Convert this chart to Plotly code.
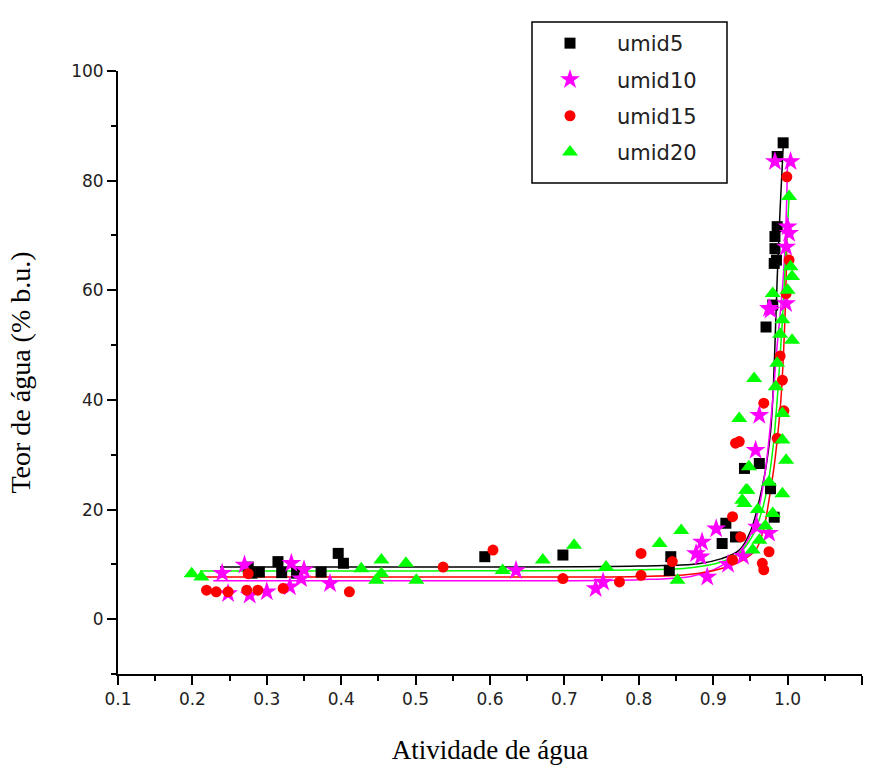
import plotly.graph_objects as go

# ---------------- data ----------------
u5_x = [0.275, 0.28, 0.29, 0.315, 0.32, 0.34, 0.373, 0.396, 0.403, 0.593, 0.698, 0.843, 0.841,
        0.912, 0.917, 0.93, 0.942, 0.962, 0.971, 0.977, 0.982, 0.98, 0.982, 0.983, 0.983, 0.985,
        0.986, 0.986, 0.994]
u5_y = [9.5, 8.4, 8.6, 10.5, 8.5, 8.4, 8.6, 12.0, 10.2, 11.4, 11.7, 11.4, 8.9,
        13.8, 17.5, 15.0, 27.5, 28.4, 53.3, 23.8, 18.6, 57.3, 64.9, 67.6, 69.8, 65.5,
        71.6, 84.4, 86.9]

u10_x = [0.24, 0.248, 0.27, 0.277, 0.3, 0.331, 0.333, 0.346, 0.35, 0.385, 0.635, 0.742, 0.752,
         0.877, 0.883, 0.885, 0.892, 0.904, 0.92, 0.94, 0.957, 0.959, 0.962, 0.975, 0.975, 0.977,
         0.983, 0.998, 0.998, 1.0, 1.002, 1.004]
u10_y = [8.4, 4.7, 9.9, 4.4, 5.0, 5.9, 10.2, 7.4, 9.0, 6.5, 8.9, 5.6, 6.8,
         12.0, 11.4, 14.1, 7.7, 16.5, 10.0, 11.5, 30.8, 16.8, 37.2, 15.7, 56.7, 56.4,
         83.5, 57.6, 67.9, 71.6, 70.4, 83.5]

u15_x = [0.219, 0.232, 0.248, 0.273, 0.288, 0.275, 0.322, 0.411, 0.537, 0.604, 0.698, 0.774, 0.803,
         0.803, 0.845, 0.926, 0.926, 0.93, 0.935, 0.937, 0.966, 0.968, 0.968, 0.975, 0.986, 0.99,
         0.995, 0.993, 0.998, 0.999, 1.002]
u15_y = [5.3, 5.0, 5.0, 5.3, 5.3, 8.3, 5.6, 5.0, 9.5, 12.6, 7.4, 6.8, 12.0,
         8.0, 10.5, 10.8, 18.7, 32.1, 32.4, 15.0, 10.2, 9.0, 39.4, 12.3, 33.0, 48.0,
         38.0, 43.6, 59.4, 80.7, 65.5]

u20_x = [0.199, 0.212, 0.427, 0.447, 0.454, 0.454, 0.487, 0.501, 0.617, 0.671, 0.713, 0.756, 0.828,
         0.852, 0.857, 0.935, 0.939, 0.942, 0.944, 0.946, 0.948, 0.953, 0.955, 0.96, 0.962, 0.97,
         0.975, 0.98, 0.98, 0.984, 0.986, 0.99, 0.993, 0.993, 0.993, 0.993, 0.998, 1.0, 1.002,
         1.004, 1.006, 1.006]
u20_y = [8.3, 7.7, 9.2, 7.1, 10.8, 8.3, 10.2, 7.1, 8.9, 10.8, 13.5, 9.5, 13.8,
         7.1, 16.2, 36.6, 21.7, 21.1, 23.5, 23.5, 27.8, 12.6, 43.9, 20.0, 14.4, 17.0,
         25.0, 19.3, 59.4, 42.4, 46.7, 52.0, 22.9, 32.7, 37.5, 54.6, 29.0, 60.0, 77.1,
         64.3, 50.9, 62.5]

# fitted curves
f5_x = [0.237, 0.5, 0.8, 0.88, 0.91, 0.935, 0.95, 0.962, 0.971, 0.977, 0.98, 0.983, 0.986, 0.99, 0.994]
f5_y = [9.5, 9.5, 9.7, 10.1, 11.0, 12.6, 16.0, 21.7, 27.8, 34.0, 40.0, 50.0, 62.0, 75.0, 86.0]

f10_x = [0.228, 0.5, 0.8, 0.87, 0.9, 0.925, 0.945, 0.96, 0.97, 0.98, 0.986, 0.991, 0.995, 0.998, 1.0]
f10_y = [7.0, 7.0, 7.2, 7.8, 9.0, 11.0, 14.0, 19.5, 27.0, 40.0, 50.0, 57.0, 64.0, 73.0, 84.0]

f15_x = [0.217, 0.5, 0.8, 0.87, 0.91, 0.94, 0.957, 0.967, 0.975, 0.982, 0.987, 0.991, 0.995, 0.998, 0.999]
f15_y = [7.7, 7.7, 7.8, 8.2, 9.2, 10.8, 12.6, 16.0, 21.7, 28.0, 34.0, 40.0, 50.0, 62.0, 70.0]

f20_x = [0.21, 0.5, 0.8, 0.87, 0.91, 0.935, 0.952, 0.965, 0.974, 0.981, 0.986, 0.99, 0.994, 0.997, 1.0, 1.002]
f20_y = [8.8, 8.8, 9.0, 9.4, 10.4, 12.0, 15.0, 19.5, 25.0, 32.0, 40.0, 48.0, 57.0, 65.0, 72.0, 77.0]

names = ["umid5", "umid10", "umid15", "umid20"]
x_ticks = [0.1, 0.2, 0.3, 0.4, 0.5, 0.6, 0.7, 0.8, 0.9, 1.0, 1.1]
y_ticks = [0, 20, 40, 60, 80, 100]

# ---------------- figure ----------------
colors = ["#000000", "#FF00FF", "#FF0000", "#00FF00"]
symbols = ["square", "star", "circle", "triangle-up"]
sizes = [11, 15, 11, 14]
pts = [(u5_x, u5_y), (u10_x, u10_y), (u15_x, u15_y), (u20_x, u20_y)]
fits = [(f5_x, f5_y), (f10_x, f10_y), (f15_x, f15_y), (f20_x, f20_y)]

fig = go.Figure()
for (fx, fy), c in zip(fits, colors):
    fig.add_trace(go.Scatter(x=fx, y=fy, mode="lines", line=dict(color=c, width=1.5),
                             showlegend=False, hoverinfo="skip", line_shape="spline"))
for (px, py), c, s, sz, n in zip(pts, colors, symbols, sizes, names):
    fig.add_trace(go.Scatter(x=px, y=py, mode="markers", name=n, legendgroup=n,
                             marker=dict(color=c, symbol=s, size=sz, line=dict(width=0))))

axis_common = dict(showgrid=False, zeroline=False, showline=True, linecolor="black",
                   linewidth=2, ticks="outside", tickcolor="black", tickwidth=1.5,
                   ticklen=9, tickfont=dict(family="DejaVu Sans", size=17, color="#222"))

# legend frame (paper coordinates)
fig.add_shape(type="rect", xref="paper", yref="paper",
              x0=(532 - 118) / 744, x1=(727 - 118) / 744,
              y0=(674 - 183) / 603, y1=(674 - 22) / 603,
              line=dict(color="black", width=1.5), fillcolor="white", layer="above")

fig.update_layout(
    width=875, height=765,
    margin=dict(l=118, r=13, t=71, b=91, autoexpand=False),
    paper_bgcolor="white", plot_bgcolor="white",
    xaxis=dict(range=[0.1, 1.1], tickvals=x_ticks, ticktext=[f"{v:.1f}" for v in x_ticks],
               minor=dict(ticks="outside", ticklen=5, tickwidth=1.5, tickcolor="black", dtick=0.05, tick0=0.1),
               title=dict(text="Atividade de água", standoff=36,
                          font=dict(family="Liberation Serif, Times New Roman", size=27, color="black")),
               **axis_common),
    yaxis=dict(range=[-10, 100], tickvals=y_ticks,
               minor=dict(ticks="outside", ticklen=5, tickwidth=1.5, tickcolor="black", dtick=10, tick0=0),
               title=dict(text="Teor de água (% b.u.)", standoff=32,
                          font=dict(family="Liberation Serif, Times New Roman", size=28, color="black")),
               **axis_common),
    legend=dict(x=(523 - 118) / 744, y=(674 - 23) / 603, xanchor="left", yanchor="top",
                borderwidth=0, bgcolor="rgba(0,0,0,0)",
                font=dict(family="DejaVu Sans", size=21, color="#222"),
                itemwidth=84, tracegroupgap=6, traceorder="grouped"),
    showlegend=True,
)

fig.write_html("out.html")
